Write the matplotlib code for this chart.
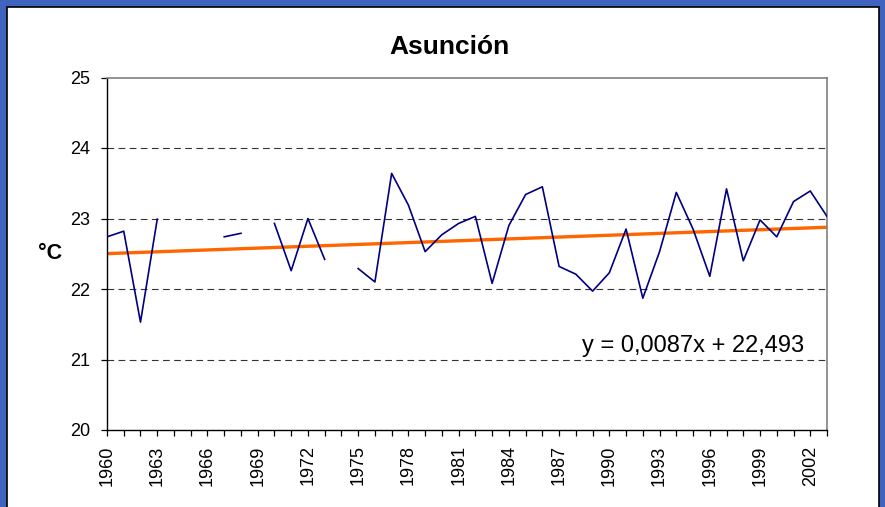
import numpy as np
import matplotlib
matplotlib.use('Agg')
import matplotlib.pyplot as plt
from matplotlib.patches import Rectangle
from matplotlib.ticker import MultipleLocator

# annual mean temperature, Asunción (gaps = missing years)
years = list(range(1960, 2004))
temps = [22.74, 22.82, 21.53, 22.99, np.nan, np.nan, np.nan, 22.74, 22.79, np.nan,
         22.93, 22.26, 23.00, 22.42, np.nan, 22.29, 22.10, 23.64, 23.19, 22.53,
         22.77, 22.93, 23.03, 22.08, 22.90, 23.34, 23.45, 22.32, 22.21, 21.97,
         22.23, 22.85, 21.87, 22.53, 23.37, 22.85, 22.18, 23.42, 22.40, 22.98,
         22.74, 23.24, 23.39, 23.03]
label_years = list(range(1960, 2003, 3))
y_ticks = [20, 21, 22, 23, 24, 25]

# Excel linear trend (x = 1..n)
slope = 0.0087
intercept = 22.493

plt.rcParams['font.family'] = ['Liberation Sans', 'DejaVu Sans']

W, H = 885, 507
fig = plt.figure(figsize=(W / 100, H / 100), dpi=100)
fig.patch.set_facecolor('#4063c0')

# white chart panel with black border
panel = Rectangle((7 / W, -0.05), 872 / W, (H - 7) / H + 0.05, transform=fig.transFigure,
                  facecolor='white', edgecolor='black', linewidth=1.2, zorder=-10)
fig.patches.append(panel)

ax = fig.add_axes([107 / W, 77 / H, 720 / W, 352.5 / H])
ax.set_facecolor('white')

x = np.array(years)
idx = np.arange(1, len(years) + 1)
trend = intercept + slope * idx

for v in y_ticks[1:-1]:
    ax.axhline(v, color='#333333', lw=0.8, ls=(0, (6, 4)), zorder=1)

ax.plot(x, trend, color='#ff6600', lw=2.4, zorder=2, solid_capstyle='butt')
ax.plot(x, temps, color='#000080', lw=1.2, zorder=3)

ax.set_xlim(years[0], years[-1])
ax.set_ylim(y_ticks[0], y_ticks[-1])
ax.set_yticks(y_ticks)
ax.set_xticks(label_years)
ax.set_xticklabels([str(y) for y in label_years], rotation=90)
ax.xaxis.set_minor_locator(MultipleLocator(1))

ax.tick_params(axis='both', which='both', direction='out', length=4, width=0.9,
               color='black', labelsize=13)
ax.tick_params(axis='y', pad=8)
ax.tick_params(axis='x', pad=7)

for side in ['left', 'bottom']:
    ax.spines[side].set_color('black')
    ax.spines[side].set_linewidth(1.0)
for side in ['top', 'right']:
    ax.spines[side].set_color('#808080')
    ax.spines[side].set_linewidth(1.2)

ax.set_ylabel('°C', rotation=0, fontsize=15.5, fontweight='bold', ha='center', va='center')
ax.yaxis.set_label_coords(-0.079, 0.5)

fig.text(449.5 / W, (H - 54.3) / H, 'Asunción', ha='center', va='baseline',
         fontsize=19, fontweight='bold')

ax.text(0.814, 0.221, 'y = 0,0087x + 22,493', transform=ax.transAxes,
        ha='center', va='baseline', fontsize=17, color='black', zorder=4)

fig.savefig('out.png', dpi=100, facecolor=fig.get_facecolor())
